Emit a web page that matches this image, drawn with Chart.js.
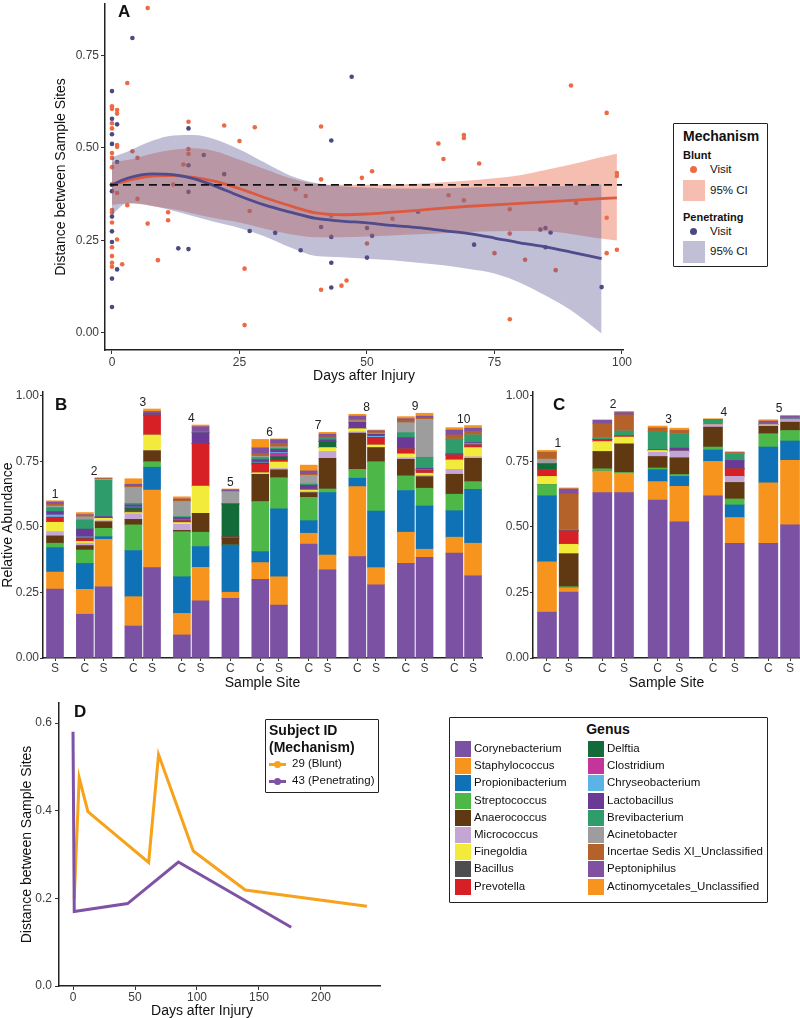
<!DOCTYPE html>
<html>
<head>
<meta charset="utf-8">
<title>Distance between sample sites</title>
<script src="https://cdn.jsdelivr.net/npm/chart.js@4"></script>
<style>
  body { margin: 0; background: #fff; }
  #fig { position: relative; width: 800px; height: 1018px; overflow: hidden;
         font-family: 'Liberation Sans', Arial, Helvetica, sans-serif; color: #111; }
  #fig canvas { position: absolute; }
  .tag { position: absolute; font-weight: bold; font-size: 17px; line-height: 17px; }
  .txt { position: absolute; white-space: nowrap; transform: translateY(-50%); font-size: 11.5px; line-height: 11.5px; }
  .bold { font-weight: bold; }
  .box { position: absolute; box-sizing: border-box; border: 1.5px solid #222; border-radius: 1px; }
  .sw { position: absolute; }
  .dot { position: absolute; width: 7px; height: 7px; border-radius: 50%; }
</style>
</head>
<body>
<div id="fig">
  <canvas id="chartA" width="650" height="392" style="left:0;top:0"></canvas>
  <canvas id="chartB" width="490" height="310" style="left:0;top:385px"></canvas>
  <canvas id="chartC" width="310" height="310" style="left:490px;top:385px"></canvas>
  <canvas id="chartD" width="420" height="328" style="left:0;top:690px"></canvas>

  <div class="tag" style="left:118px;top:3px">A</div>
  <div class="tag" style="left:55px;top:396px">B</div>
  <div class="tag" style="left:553px;top:396px">C</div>
  <div class="tag" style="left:74px;top:703px">D</div>

  <!-- panel A legend -->
  <div class="box" style="left:673px;top:123px;width:95px;height:144px"></div>
  <div class="txt bold" style="left:683px;top:136px;font-size:14px;line-height:14px">Mechanism</div>
  <div class="txt bold" style="left:683px;top:155px;font-size:11px;line-height:11px">Blunt</div>
  <div class="dot" style="left:689.5px;top:166px;background:#ee6a45"></div>
  <div class="txt" style="left:710px;top:170px">Visit</div>
  <div class="sw" style="left:683px;top:180px;width:22px;height:21px;background:#f5beb0"></div>
  <div class="txt" style="left:710px;top:191px">95% CI</div>
  <div class="txt bold" style="left:683px;top:217px;font-size:11px;line-height:11px">Penetrating</div>
  <div class="dot" style="left:689.5px;top:228px;background:#4b4a80"></div>
  <div class="txt" style="left:710px;top:232px">Visit</div>
  <div class="sw" style="left:683px;top:241px;width:22px;height:22px;background:#c0bfd6"></div>
  <div class="txt" style="left:710px;top:252px">95% CI</div>

  <!-- panel D legend -->
  <div class="box" style="left:265px;top:719px;width:114px;height:74px"></div>
  <div class="txt bold" style="left:269px;top:730px;font-size:14px;line-height:14px">Subject ID</div>
  <div class="txt bold" style="left:269px;top:747px;font-size:14px;line-height:14px">(Mechanism)</div>
  <div class="sw" style="left:269px;top:762.5px;width:17px;height:3px;background:#f7a21b"></div>
  <div class="dot" style="left:274px;top:760.5px;background:#f7a21b"></div>
  <div class="txt" style="left:292px;top:764px">29 (Blunt)</div>
  <div class="sw" style="left:269px;top:779.5px;width:17px;height:3px;background:#7e52a4"></div>
  <div class="dot" style="left:274px;top:777.5px;background:#7e52a4"></div>
  <div class="txt" style="left:292px;top:781px">43 (Penetrating)</div>
  <div class="txt" style="left:202px;top:1010px;font-size:14px;line-height:14px;transform:translate(-50%,-50%)">Days after Injury</div>

  <!-- genus legend -->
  <div class="box" style="left:449px;top:717px;width:319px;height:186px"></div>
  <div class="txt bold" style="left:608px;top:729px;font-size:14px;line-height:14px;transform:translate(-50%,-50%)">Genus</div>
  <div id="genusKey"></div>
</div>

<script>
// ---- Panel A: distance between sample sites per visit ----
const bluntDays = [7, 3, 0, 0, 1, 1, 0, 0, 1, 1, 0, 0, 4, 5, 0, 14, 15, 15, 15, 22, 28, 25, 0, 1, 12, 3,
  5, 0, 0, 11, 27, 0, 7, 11, 1, 0, 0, 0, 0, 2, 9, 26, 26, 41, 41, 49, 51, 36, 38, 43, 41, 45, 46, 50,
  55, 64, 65, 69, 69, 72, 66, 69, 78, 78, 75, 81, 87, 78, 90, 97, 99, 99, 97, 91, 97, 99];
const bluntDist = [0.879, 0.676, 0.613, 0.606, 0.603, 0.593, 0.567, 0.553, 0.508, 0.503, 0.486, 0.473,
  0.491, 0.473, 0.448, 0.455, 0.497, 0.484, 0.571, 0.561, 0.556, 0.519, 0.401, 0.378, 0.401, 0.345,
  0.362, 0.332, 0.325, 0.326, 0.329, 0.298, 0.295, 0.304, 0.252, 0.231, 0.207, 0.189, 0.178, 0.185,
  0.196, 0.173, 0.02, 0.558, 0.415, 0.419, 0.437, 0.388, 0.37, 0.316, 0.116, 0.127, 0.141, 0.241,
  0.308, 0.512, 0.47, 0.535, 0.527, 0.458, 0.372, 0.358, 0.334, 0.268, 0.215, 0.197, 0.169, 0.036,
  0.669, 0.595, 0.432, 0.424, 0.311, 0.351, 0.215, 0.224];
const penDays = [4, 0, 0, 1, 0, 0, 1, 15, 15, 18, 22, 0, 0, 15, 0, 0, 27, 0, 13, 15, 0, 1, 0, 32, 37,
  41, 43, 43, 43, 50, 51, 50, 47, 43, 60, 71, 84, 85, 86, 85, 96];
const penDist = [0.798, 0.654, 0.579, 0.564, 0.537, 0.511, 0.462, 0.553, 0.453, 0.481, 0.429, 0.40,
  0.383, 0.381, 0.314, 0.274, 0.275, 0.245, 0.228, 0.226, 0.146, 0.171, 0.069, 0.27, 0.223, 0.286,
  0.259, 0.189, 0.122, 0.283, 0.262, 0.203, 0.693, 0.52, 0.327, 0.238, 0.279, 0.283, 0.271, 0.231, 0.123];

// smoothed fits with 95% CI
const bluntFitDays = [0, 4, 8, 12, 16, 20, 25, 30, 35, 40, 45, 50, 55, 60, 65, 70, 75, 80, 85, 90, 95, 99];
const bluntFit = [0.40, 0.415, 0.424, 0.425, 0.42, 0.41, 0.39, 0.365, 0.343, 0.324, 0.319, 0.321, 0.326,
  0.331, 0.337, 0.342, 0.346, 0.35, 0.354, 0.358, 0.362, 0.365];
const bluntHi = [0.462, 0.47, 0.485, 0.495, 0.499, 0.492, 0.468, 0.442, 0.418, 0.403, 0.40, 0.40, 0.401,
  0.403, 0.407, 0.412, 0.418, 0.426, 0.44, 0.455, 0.472, 0.484];
const bluntLo = [0.346, 0.35, 0.342, 0.334, 0.322, 0.31, 0.298, 0.281, 0.266, 0.258, 0.258, 0.26, 0.263,
  0.266, 0.269, 0.272, 0.274, 0.275, 0.274, 0.267, 0.256, 0.249];
const penFitDays = [0, 3, 8, 12, 16, 20, 25, 30, 35, 40, 45, 50, 55, 60, 65, 70, 75, 80, 85, 90, 96];
const penFit = [0.40, 0.418, 0.43, 0.428, 0.417, 0.398, 0.37, 0.345, 0.326, 0.309, 0.302, 0.297, 0.29,
  0.284, 0.276, 0.268, 0.256, 0.243, 0.232, 0.218, 0.20];
const penHi = [0.475, 0.49, 0.52, 0.534, 0.535, 0.524, 0.496, 0.46, 0.425, 0.405, 0.396, 0.393, 0.39,
  0.39, 0.391, 0.393, 0.394, 0.395, 0.396, 0.397, 0.401];
const penLo = [0.319, 0.35, 0.343, 0.33, 0.315, 0.30, 0.283, 0.26, 0.23, 0.207, 0.204, 0.2, 0.196,
  0.189, 0.182, 0.172, 0.16, 0.135, 0.10, 0.06, -0.003];
const cutoff = 0.40;
const cutoffDays = [-0.4, 100];
const aXTicks = [0, 25, 50, 75, 100];
const aYTicks = [0, 0.25, 0.5, 0.75];

// ---- Panels B and C: relative abundance per genus ----
const genera = ['Corynebacterium', 'Staphylococcus', 'Propionibacterium', 'Streptococcus', 'Anaerococcus',
  'Micrococcus', 'Finegoldia', 'Bacillus', 'Prevotella', 'Delftia', 'Clostridium', 'Chryseobacterium',
  'Lactobacillus', 'Brevibacterium', 'Acinetobacter', 'Incertae Sedis XI_Unclassified', 'Peptoniphilus',
  'Actinomycetales_Unclassified'];
const genusColors = ['#7b52a3', '#f7941d', '#0f72b6', '#4db848', '#603913', '#c3a6d6', '#f2eb3b', '#4d4d4f',
  '#d71f26', '#146b3a', '#c4359b', '#5bb4e5', '#6b3a97', '#2f9c6c', '#9d9d9d', '#b5612a', '#8050a1', '#f7941d'];

const bSubjects = [1, 2, 2, 3, 3, 4, 4, 5, 6, 6, 7, 7, 8, 8, 9, 9, 10, 10];
const bSites = ['S', 'C', 'S', 'C', 'S', 'C', 'S', 'C', 'C', 'S', 'C', 'S', 'C', 'S', 'C', 'S', 'C', 'S'];
// one row per sample, columns in genus order
const bAbundance = [
  [0.263, 0.065, 0.093, 0.017, 0.028, 0.016, 0.036, 0, 0.019, 0, 0, 0.009, 0.013, 0.015, 0.006, 0.008, 0.007, 0.005],
  [0.167, 0.095, 0.099, 0.051, 0.017, 0.009, 0.007, 0, 0.010, 0.003, 0, 0.004, 0.030, 0.035, 0.012, 0.005, 0.003, 0.008],
  [0.272, 0.181, 0.010, 0.032, 0.025, 0.004, 0.009, 0, 0.003, 0, 0, 0, 0.004, 0.138, 0.004, 0.003, 0, 0.003],
  [0.122, 0.112, 0.176, 0.098, 0.021, 0.021, 0.005, 0, 0.006, 0.012, 0, 0.003, 0.008, 0.006, 0.061, 0.005, 0.007, 0.021],
  [0.345, 0.296, 0.087, 0.021, 0.042, 0, 0.060, 0, 0.076, 0, 0, 0, 0.006, 0, 0, 0, 0.008, 0.009],
  [0.088, 0.082, 0.140, 0.172, 0.005, 0.023, 0.007, 0, 0.006, 0, 0.004, 0, 0.009, 0.004, 0.057, 0.005, 0.005, 0.008],
  [0.218, 0.128, 0.079, 0.055, 0.072, 0, 0.104, 0, 0.163, 0, 0, 0, 0.041, 0, 0, 0.005, 0.018, 0.006],
  [0.228, 0.023, 0.180, 0, 0.026, 0, 0, 0.005, 0, 0.126, 0, 0, 0, 0, 0.047, 0, 0.007, 0.003],
  [0.300, 0.064, 0.042, 0.191, 0.104, 0, 0.006, 0, 0.032, 0.005, 0, 0.003, 0.010, 0.008, 0.005, 0.010, 0.022, 0.032],
  [0.202, 0.108, 0.259, 0.119, 0.030, 0.005, 0.025, 0, 0.008, 0.012, 0.013, 0.003, 0.012, 0.005, 0.005, 0.013, 0.014, 0.003],
  [0.435, 0.041, 0.048, 0.089, 0.018, 0.004, 0.006, 0, 0.003, 0, 0, 0, 0.015, 0.005, 0.033, 0.005, 0.012, 0.022],
  [0.336, 0.057, 0.238, 0.014, 0.117, 0.026, 0.015, 0, 0, 0.023, 0, 0, 0.006, 0.006, 0, 0.006, 0.010, 0.007],
  [0.387, 0.267, 0.032, 0.034, 0.138, 0.005, 0.012, 0, 0, 0, 0, 0, 0.025, 0, 0.005, 0.006, 0.012, 0.007],
  [0.279, 0.066, 0.216, 0.188, 0.054, 0, 0.010, 0, 0.029, 0, 0, 0.004, 0.008, 0, 0.004, 0.005, 0.004, 0.003],
  [0.361, 0.119, 0.159, 0.056, 0.063, 0.006, 0.015, 0, 0.019, 0, 0, 0, 0.043, 0.019, 0.038, 0.008, 0.007, 0.008],
  [0.384, 0.031, 0.165, 0.068, 0.044, 0.005, 0.008, 0, 0.010, 0, 0.003, 0, 0.006, 0.042, 0.145, 0.005, 0.007, 0.011],
  [0.400, 0.061, 0.101, 0.063, 0.076, 0.019, 0.036, 0, 0.019, 0, 0, 0, 0.005, 0.055, 0, 0.016, 0.019, 0.009],
  [0.314, 0.124, 0.206, 0.029, 0.089, 0.006, 0.035, 0, 0.010, 0, 0, 0.005, 0.004, 0.029, 0, 0.013, 0.013, 0.010]
];

const cSubjects = [1, 1, 2, 2, 3, 3, 4, 4, 5, 5];
const cSites = ['C', 'S', 'C', 'S', 'C', 'S', 'C', 'S', 'C', 'S'];
const cAbundance = [
  [0.175, 0.192, 0.252, 0.043, 0, 0, 0.031, 0, 0.026, 0.022, 0, 0, 0, 0, 0.018, 0.026, 0, 0.007],
  [0.252, 0.016, 0, 0.004, 0.126, 0, 0.036, 0, 0.051, 0, 0, 0, 0, 0.004, 0, 0.137, 0.019, 0.004],
  [0.631, 0.082, 0, 0.009, 0.066, 0, 0.038, 0, 0.008, 0, 0, 0, 0, 0.006, 0, 0.054, 0.013, 0.002],
  [0.631, 0.074, 0, 0.003, 0.109, 0, 0.026, 0, 0.004, 0, 0, 0, 0, 0.019, 0, 0.062, 0.009, 0.004],
  [0.603, 0.070, 0.046, 0.006, 0.044, 0.016, 0.007, 0, 0, 0, 0, 0, 0.003, 0.070, 0, 0.012, 0, 0.008],
  [0.520, 0.135, 0.038, 0.007, 0.064, 0.025, 0, 0, 0, 0, 0, 0, 0.012, 0.055, 0, 0.012, 0, 0.009],
  [0.619, 0.131, 0.044, 0.011, 0.076, 0.009, 0, 0, 0, 0, 0, 0, 0, 0.017, 0, 0.003, 0, 0.003],
  [0.438, 0.098, 0.048, 0.023, 0.063, 0.023, 0, 0, 0.029, 0, 0, 0, 0.032, 0.025, 0, 0.004, 0, 0.004],
  [0.438, 0.230, 0.137, 0.051, 0.028, 0.006, 0, 0, 0, 0, 0, 0, 0, 0, 0, 0.004, 0.010, 0.005],
  [0.508, 0.246, 0.074, 0.040, 0.032, 0.009, 0, 0, 0, 0, 0, 0.003, 0, 0, 0, 0.005, 0.005, 0.004]
];
const abundanceTicks = [0, 0.25, 0.5, 0.75, 1];

// ---- Panel D: two subjects over time ----
const subj29Days = [1, 5, 12, 61, 69, 97, 139, 237];
const subj29Dist = [0.20, 0.475, 0.398, 0.282, 0.528, 0.308, 0.219, 0.182];
const subj43Days = [0, 1, 44, 85, 176];
const subj43Dist = [0.58, 0.17, 0.188, 0.283, 0.134];
const dXTicks = [0, 50, 100, 150, 200];
const dYTicks = [0, 0.2, 0.4, 0.6];

// ---------------------------------------------------------------
Chart.defaults.font.family = "'Liberation Sans', Arial, Helvetica, sans-serif";
Chart.defaults.font.size = 12;
Chart.defaults.color = '#3c3c3c';
Chart.defaults.animation = false;
Chart.defaults.responsive = false;
Chart.defaults.events = [];
Chart.defaults.plugins.legend.display = false;
Chart.defaults.plugins.tooltip.enabled = false;

const zip = (xs, ys) => xs.map((x, i) => ({x: x, y: ys[i]}));

// pin the axis box to a fixed size so the plot area lands where the figure has it
function fixSize(prop, size) {
    return scale => {
        scale[prop] = size;
        scale.paddingTop = scale.paddingBottom = scale.paddingLeft = scale.paddingRight = 0;
    };
}

function axis(o) {
    return {
        type: 'linear',
        min: o.min,
        max: o.max,
        offset: false,
        stacked: !!o.stacked,
        afterBuildTicks: scale => { scale.ticks = o.ticks.map(v => ({value: v})); },
        afterFit: fixSize(o.prop, o.size),
        grid: {display: true, drawOnChartArea: false, tickLength: o.tickLength || 4, color: '#333', offset: false},
        border: {display: true, color: '#222', width: 1.5},
        ticks: {padding: o.pad, color: '#3c3c3c', font: {size: 12}, autoSkip: false, maxRotation: 0, callback: o.fmt},
        title: o.title
            ? {display: true, text: o.title, color: '#111', font: {size: 14}, padding: o.titlePad}
            : {display: false}
    };
}

// Panel A
new Chart(document.getElementById('chartA'), {
    type: 'line',
    data: {
        datasets: [
            {data: zip(cutoffDays, cutoffDays.map(() => cutoff)), borderColor: '#111', borderWidth: 1.8,
             borderDash: [8, 5], pointRadius: 0, order: 0},
            {data: zip(penFitDays, penFit), borderColor: '#4f4b8c', borderWidth: 2.8, pointRadius: 0,
             cubicInterpolationMode: 'monotone', order: 1},
            {data: zip(bluntFitDays, bluntFit), borderColor: '#dc5a40', borderWidth: 2.8, pointRadius: 0,
             cubicInterpolationMode: 'monotone', order: 2},
            {data: zip(penFitDays, penHi), borderWidth: 0, pointRadius: 0, fill: '+1',
             backgroundColor: 'rgba(90, 88, 145, 0.38)', cubicInterpolationMode: 'monotone', order: 3},
            {data: zip(penFitDays, penLo), borderWidth: 0, pointRadius: 0, cubicInterpolationMode: 'monotone', order: 3},
            {data: zip(bluntFitDays, bluntHi), borderWidth: 0, pointRadius: 0, fill: '+1',
             backgroundColor: 'rgba(234, 110, 80, 0.45)', cubicInterpolationMode: 'monotone', order: 4},
            {data: zip(bluntFitDays, bluntLo), borderWidth: 0, pointRadius: 0, cubicInterpolationMode: 'monotone', order: 4},
            {data: zip(penDays, penDist), showLine: false, pointRadius: 2.3, pointBorderWidth: 0,
             pointBackgroundColor: '#4b4a80', order: 5},
            {data: zip(bluntDays, bluntDist), showLine: false, pointRadius: 2.3, pointBorderWidth: 0,
             pointBackgroundColor: '#ee6a45', order: 6}
        ]
    },
    options: {
        layout: {padding: {top: 0, right: 27, bottom: 0, left: 0}},
        scales: {
            x: axis({min: -1.37, max: 100.2, ticks: aXTicks, prop: 'height', size: 42, pad: 1,
                     fmt: v => String(v), title: 'Days after Injury', titlePad: {top: 0, bottom: 7}}),
            y: axis({min: -0.0474, max: 0.89, ticks: aYTicks, prop: 'width', size: 105, pad: 2,
                     fmt: v => v.toFixed(2), title: 'Distance between Sample Sites', titlePad: {top: 53, bottom: 0}})
        }
    }
});

// x position of each bar: 1 unit between C and S of a subject, a wider gap between subjects
function barPositions(subjects, gap) {
    const pos = [];
    let x = 0;
    subjects.forEach((s, i) => {
        if (i > 0) x += (s === subjects[i - 1]) ? 1 : gap;
        pos.push(x);
    });
    return pos;
}

function genusDatasets(rows, pos, thickness) {
    return genera.map((g, gi) => ({
        label: g,
        data: rows.map((r, i) => ({x: pos[i], y: r[gi]})),
        backgroundColor: genusColors[gi],
        borderWidth: 0,
        barThickness: thickness
    }));
}

// subject number over each pair of bars
function subjectLabels(subjects, pos, rows) {
    return {
        id: 'subjectLabels',
        afterDatasetsDraw(chart) {
            const {ctx, scales: {x, y}} = chart;
            const ids = [...new Set(subjects)];
            ctx.save();
            ctx.font = "12px 'Liberation Sans', Arial, sans-serif";
            ctx.fillStyle = '#222';
            ctx.textAlign = 'center';
            ctx.textBaseline = 'alphabetic';
            ids.forEach(id => {
                const idx = subjects.map((s, i) => s === id ? i : -1).filter(i => i >= 0);
                const cx = idx.reduce((a, i) => a + pos[i], 0) / idx.length;
                const top = Math.max(...idx.map(i => rows[i].reduce((a, b) => a + b, 0)));
                ctx.fillText(String(id), x.getPixelForValue(cx), y.getPixelForValue(top) - 3);
            });
            ctx.restore();
        }
    };
}

function abundanceChart(id, subjects, sites, rows, gap, thickness, xMin, xMax, rightPad, yTitle) {
    const pos = barPositions(subjects, gap);
    const yTitleOpts = yTitle ? {title: yTitle, titlePad: {top: 0, bottom: 0}} : {};
    new Chart(document.getElementById(id), {
        type: 'bar',
        data: {datasets: genusDatasets(rows, pos, thickness)},
        options: {
            layout: {padding: {top: 7, right: rightPad, bottom: 0, left: 0}},
            scales: {
                x: axis({min: xMin, max: xMax, ticks: pos, prop: 'height', size: 37, pad: 0, tickLength: 3,
                         stacked: true, fmt: (v, i) => sites[i], title: 'Sample Site', titlePad: {top: 0, bottom: 3.6}}),
                y: axis(Object.assign({min: 0, max: 1.015, ticks: abundanceTicks, prop: 'width', size: 43, pad: 1,
                         tickLength: 3, stacked: true, fmt: v => v.toFixed(2)}, yTitleOpts))
            }
        },
        plugins: [subjectLabels(subjects, pos, rows)]
    });
}

abundanceChart('chartB', bSubjects, bSites, bAbundance, 1.6, 17, -0.643, 22.88, 8, 'Relative Abundance');
abundanceChart('chartC', cSubjects, cSites, cAbundance, 1.55, 19, -0.645, 11.66, 0, null);

// Panel D
new Chart(document.getElementById('chartD'), {
    type: 'line',
    data: {
        datasets: [
            {label: '43 (Penetrating)', data: zip(subj43Days, subj43Dist), borderColor: '#7e52a4',
             borderWidth: 3, pointRadius: 0, order: 0},
            {label: '29 (Blunt)', data: zip(subj29Days, subj29Dist), borderColor: '#f7a21b',
             borderWidth: 3, pointRadius: 0, order: 1}
        ]
    },
    options: {
        layout: {padding: {top: 13, right: 40, bottom: 0, left: 0}},
        scales: {
            x: axis({min: -11.3, max: 247.6, ticks: dXTicks, prop: 'height', size: 32, pad: 0, fmt: v => String(v)}),
            y: axis({min: 0, max: 0.6457, ticks: dYTicks, prop: 'width', size: 59, pad: 3,
                     fmt: v => v.toFixed(1), title: 'Distance between Sample Sites', titlePad: {top: 18.6, bottom: 0}})
        }
    }
});

// Genus key, two columns of nine
const key = document.getElementById('genusKey');
genera.forEach((g, i) => {
    const col = i < 9 ? 0 : 1;
    const cy = 749 + (i % 9) * 17.2;
    const sw = document.createElement('div');
    sw.className = 'sw';
    sw.style.cssText = `left:${col ? 588 : 455}px;top:${cy - 8}px;width:16px;height:16px;background:${genusColors[i]}`;
    const t = document.createElement('div');
    t.className = 'txt';
    t.style.cssText = `left:${col ? 607 : 474}px;top:${cy}px`;
    t.textContent = g;
    key.appendChild(sw);
    key.appendChild(t);
});
</script>
</body>
</html>
